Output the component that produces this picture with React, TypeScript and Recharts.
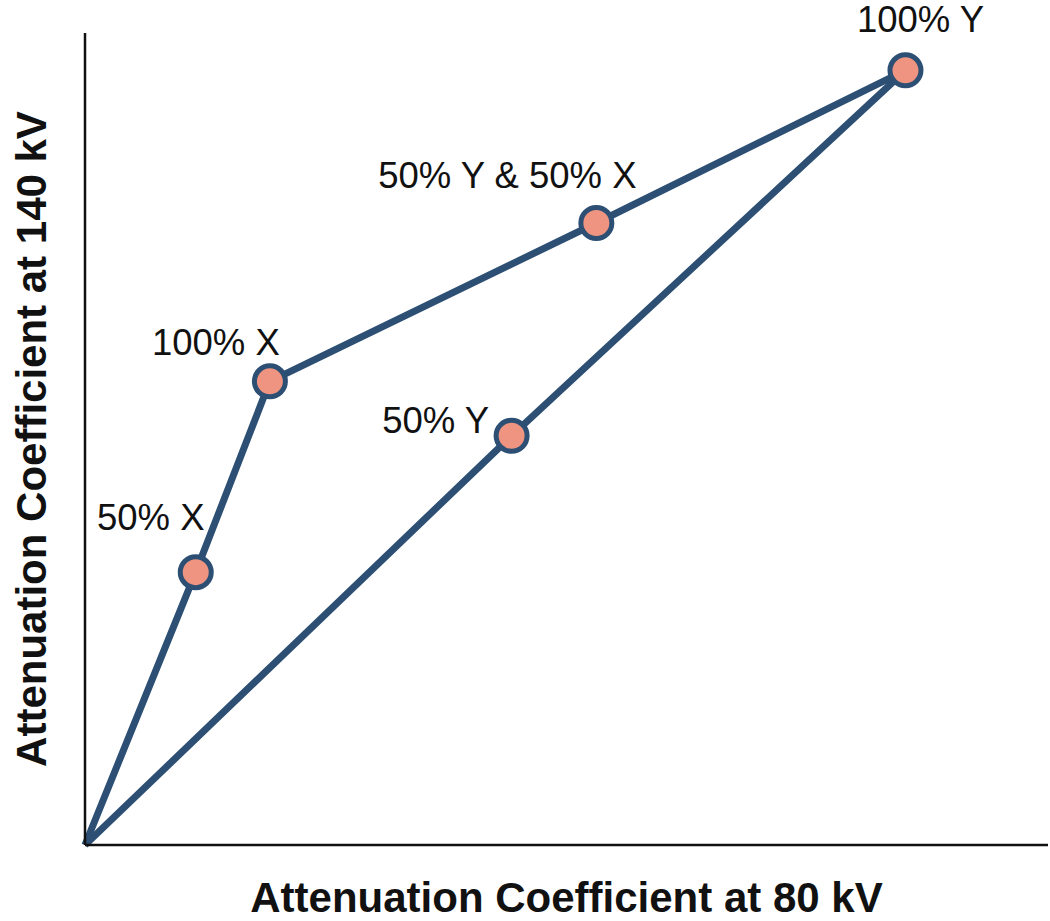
import React from "react"
import { LineChart, Line, XAxis, YAxis, Label } from "recharts"

// points, axes run 0..100 (no ticks shown)
const upperNames = ["", "50% X", "100% X", "50% Y & 50% X", "100% Y"]
const upperX = [0, 11.5, 19.2, 53.1, 85.2]
const upperY = [0, 33.6, 57.1, 76.6, 95.4]

const lowerNames = ["", "50% Y", ""]
const lowerX = [0, 44.3, 85.2]
const lowerY = [0, 50.4, 95.4]

const xTitle = "Attenuation Coefficient at 80 kV"
const yTitle = "Attenuation Coefficient at 140 kV"

const upper = upperNames.map((name, i) => ({ name, x: upperX[i], y: upperY[i] }))
const lower = lowerNames.map((name, i) => ({ name, x: lowerX[i], y: lowerY[i] }))

const LINE = "#2c4f73"
const DOT = "#ee9480"
const FONT = "'Liberation Sans', Arial, Helvetica, sans-serif"

// where each label sits relative to its point
const labelOffset: Record<string, [number, number]> = {
  "50% X": [-45, -42],
  "100% X": [-54, -26],
  "50% Y & 50% X": [-89, -35],
  "100% Y": [15, -38],
  "50% Y": [-76, -3],
}

const renderDot = (props: any) => {
  const { cx, cy, payload, index } = props
  if (!payload.name) return <g key={`e-${index}`} />
  const [dx, dy] = labelOffset[payload.name] || [0, -30]
  return (
    <g key={`d-${index}`}>
      <circle cx={cx} cy={cy} r={15.5} fill={DOT} stroke={LINE} strokeWidth={5} />
      <text
        x={cx + dx}
        y={cy + dy}
        textAnchor="middle"
        fontSize={36.5}
        fontFamily={FONT}
        fill="#111"
      >
        {payload.name}
      </text>
    </g>
  )
}

export default function App() {
  return (
    <div style={{ position: "absolute", left: 0, top: 0, background: "#fff" }}>
      <LineChart width={1050} height={921} margin={{ top: 33, right: 2, left: 0, bottom: 0 }}>
        <XAxis
          dataKey="x"
          type="number"
          domain={[0, 100]}
          height={76}
          tick={false}
          tickLine={false}
          axisLine={{ stroke: "#111", strokeWidth: 2.5 }}
        >
          <Label
            content={({ viewBox }: any) => (
              <text
                x={viewBox.x + viewBox.width / 2}
                y={912}
                textAnchor="middle"
                fontSize={42}
                fontWeight="bold"
                fontFamily={FONT}
                fill="#111"
              >
                {xTitle}
              </text>
            )}
          />
        </XAxis>
        <YAxis
          dataKey="y"
          type="number"
          domain={[0, 100]}
          width={85}
          tick={false}
          tickLine={false}
          axisLine={{ stroke: "#111", strokeWidth: 2.5 }}
        >
          <Label
            content={({ viewBox }: any) => {
              const cy = viewBox.y + viewBox.height / 2
              return (
                <text
                  x={46}
                  y={cy}
                  transform={`rotate(-90, 46, ${cy})`}
                  textAnchor="middle"
                  fontSize={42}
                  fontWeight="bold"
                  fontFamily={FONT}
                  fill="#111"
                >
                  {yTitle}
                </text>
              )
            }}
          />
        </YAxis>
        <Line
          data={lower}
          dataKey="y"
          stroke={LINE}
          strokeWidth={7}
          strokeLinejoin="round"
          dot={renderDot}
          activeDot={false}
          isAnimationActive={false}
        />
        <Line
          data={upper}
          dataKey="y"
          stroke={LINE}
          strokeWidth={7}
          strokeLinejoin="round"
          dot={renderDot}
          activeDot={false}
          isAnimationActive={false}
        />
      </LineChart>
    </div>
  )
}
